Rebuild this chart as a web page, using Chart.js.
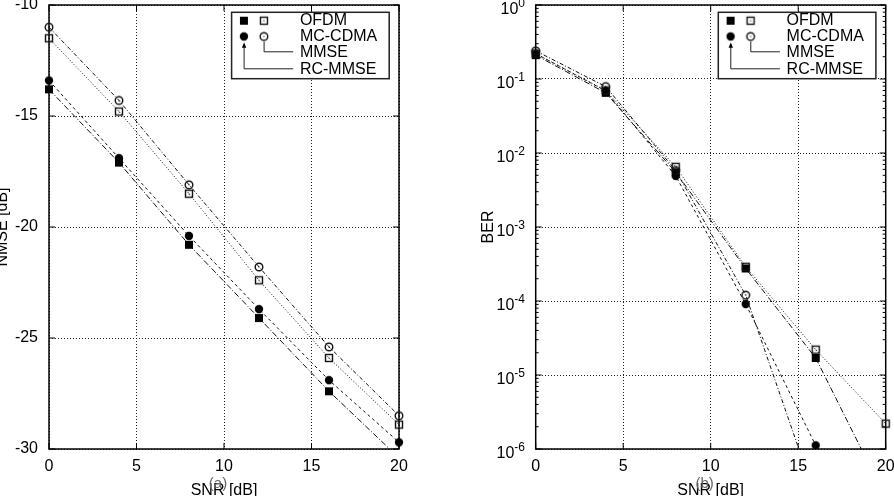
<!DOCTYPE html>
<html>
<head>
<meta charset="utf-8">
<title>NMSE and BER versus SNR</title>
<script src="https://cdn.jsdelivr.net/npm/chart.js@4.4.1/dist/chart.umd.min.js"></script>
<style>
  body { margin: 0; background: #fff; }
  #wrap { position: relative; width: 894px; height: 496px; overflow: hidden; }
  canvas { position: absolute; top: 0; }
  #nmseChart { left: 0; }
  #berChart { left: 447px; }
</style>
</head>
<body>
<div id="wrap">
  <canvas id="nmseChart" width="447" height="496"></canvas>
  <canvas id="berChart" width="447" height="496"></canvas>
</div>
<script>
// values
var snr = [0, 4, 8, 12, 16, 20];

// (a) NMSE [dB]
var nmseOfdmMmse = [-11.5, -14.8, -18.5, -22.4, -25.9, -28.9];
var nmseCdmaMmse = [-11.0, -14.3, -18.1, -21.8, -25.4, -28.5];
var nmseOfdmRc   = [-13.8, -17.1, -20.8, -24.1, -27.4, -30.4];
var nmseCdmaRc   = [-13.4, -16.9, -20.4, -23.7, -26.9, -29.7];

// (b) BER
var berOfdmMmse = [0.22, 0.070, 0.0065, 2.9e-4, 2.2e-5, 2.2e-6];
var berCdmaMmse = [0.24, 0.079, 0.0058, 1.2e-4, 2.2e-7, null];
var berOfdmRc   = [0.21, 0.065, 0.0055, 2.75e-4, 1.7e-5, 2.2e-7];
var berCdmaRc   = [0.22, 0.069, 0.0049, 9.1e-5, 1.12e-6, null];

var snrTicks = [0, 5, 10, 15, 20];
var nmseTicks = [-30, -25, -20, -15, -10];
var berExponents = [0, -1, -2, -3, -4, -5, -6];
var legendRows = ["OFDM", "MC-CDMA", "MMSE", "RC-MMSE"];
var xTitle = "SNR [dB]";
var nmseTitle = "NMSE [dB]";
var berTitle = "BER";

var FONT = '"Liberation Sans", Arial, sans-serif';
Chart.defaults.font.family = FONT;
Chart.defaults.font.size = 16;
Chart.defaults.color = '#000';

// gnuplot like markers
function marker(kind) {
  var c = document.createElement('canvas');
  c.width = 12; c.height = 12;
  var g = c.getContext('2d');
  g.fillStyle = '#000';
  g.strokeStyle = '#111';
  g.lineWidth = 1.4;
  if (kind == 'fsq') g.fillRect(2, 2, 8, 8);
  if (kind == 'osq') { g.strokeRect(2.5, 2.5, 7, 7); g.fillRect(5.5, 5.5, 1, 1); }
  if (kind == 'fci') { g.beginPath(); g.arc(6, 6, 4.2, 0, 2 * Math.PI); g.fill(); }
  if (kind == 'oci') { g.beginPath(); g.arc(6, 6, 3.8, 0, 2 * Math.PI); g.stroke(); g.fillRect(5.5, 5.5, 1, 1); }
  return c;
}
var markers = { fsq: marker('fsq'), osq: marker('osq'), fci: marker('fci'), oci: marker('oci') };

function series(ys, kind, dash) {
  return {
    data: snr.map(function (x, i) { return { x: x, y: ys[i] }; }),
    showLine: true,
    borderColor: '#111',
    borderWidth: 1,
    borderDash: dash,
    pointStyle: markers[kind],
    pointRadius: 4,
    clip: { left: 10, right: 10, top: 10, bottom: 0 }
  };
}

function datasets(ofdmMmse, cdmaMmse, ofdmRc, cdmaRc) {
  return [
    series(ofdmMmse, 'osq', [1, 2]),
    series(cdmaMmse, 'oci', [4, 2, 1, 2]),
    series(ofdmRc, 'fsq', [6, 2, 1, 2]),
    series(cdmaRc, 'fci', [3, 3])
  ];
}

function tickLine(ctx, x1, y1, x2, y2) {
  ctx.beginPath();
  ctx.moveTo(x1, y1);
  ctx.lineTo(x2, y2);
  ctx.stroke();
}

function drawLegend(ctx, a) {
  var L = a.right - 167.4, T = 12.3, W = 157.6, H = 66.4;
  var rows = [8.4, 24.2, 40, 57.7];
  ctx.save();
  ctx.fillStyle = '#fff';
  ctx.fillRect(L, T, W, H);
  ctx.strokeStyle = '#222';
  ctx.lineWidth = 1.5;
  ctx.strokeRect(L, T, W, H);

  ctx.drawImage(markers.fsq, L + 12.3 - 6, T + rows[0] - 6);
  ctx.drawImage(markers.osq, L + 32.3 - 6, T + rows[0] - 6);
  ctx.drawImage(markers.fci, L + 12.3 - 6, T + rows[1] - 6);
  ctx.drawImage(markers.oci, L + 32.3 - 6, T + rows[1] - 6);

  // pointers from the marker columns to MMSE / RC-MMSE
  ctx.lineWidth = 1;
  ctx.beginPath();
  ctx.moveTo(L + 32.5, T + rows[1] + 5);
  ctx.lineTo(L + 32.5, T + 39.5);
  ctx.lineTo(L + 61.6, T + 39.5);
  ctx.moveTo(L + 12.5, T + 32);
  ctx.lineTo(L + 12.5, T + 56.5);
  ctx.lineTo(L + 61.6, T + 56.5);
  ctx.stroke();
  ctx.fillStyle = '#000';
  ctx.beginPath();
  ctx.moveTo(L + 12.5, T + 30.2);
  ctx.lineTo(L + 10.3, T + 35.5);
  ctx.lineTo(L + 14.7, T + 35.5);
  ctx.closePath();
  ctx.fill();

  ctx.font = '16px ' + FONT;
  ctx.textBaseline = 'middle';
  ctx.textAlign = 'left';
  for (var i = 0; i < legendRows.length; i++) {
    ctx.fillText(legendRows[i], L + 68.3, T + rows[i]);
  }
  ctx.restore();
}

// frame, inner tic marks, legend and titles
var paper = {
  id: 'paper',
  beforeDatasetsDraw: function (chart, args, opts) {
    var ctx = chart.ctx, a = chart.chartArea;
    var xs = chart.scales.x, ys = chart.scales.y;
    ctx.save();
    ctx.strokeStyle = '#000';
    ctx.lineWidth = 1;
    snrTicks.forEach(function (v) {
      var px = xs.getPixelForValue(v);
      tickLine(ctx, px, a.bottom, px, a.bottom - 6);
      tickLine(ctx, px, a.top, px, a.top + 6);
    });
    opts.yMajor.forEach(function (v) {
      var py = ys.getPixelForValue(v);
      tickLine(ctx, a.left, py, a.left + 6, py);
      tickLine(ctx, a.right, py, a.right - 6, py);
    });
    (opts.yMinor || []).forEach(function (v) {
      var py = ys.getPixelForValue(v);
      tickLine(ctx, a.left, py, a.left + 3, py);
      tickLine(ctx, a.right, py, a.right - 3, py);
    });
    ctx.lineWidth = 1.5;
    ctx.strokeRect(a.left, a.top, a.right - a.left, a.bottom - a.top);
    ctx.restore();
  },
  afterDraw: function (chart, args, opts) {
    var ctx = chart.ctx, a = chart.chartArea;
    var mid = (a.left + a.right) / 2;
    drawLegend(ctx, a);
    ctx.save();
    ctx.fillStyle = '#000';
    ctx.font = '16px ' + FONT;
    ctx.textAlign = 'center';
    ctx.textBaseline = 'alphabetic';
    ctx.fillText(xTitle, mid, 495);
    ctx.save();
    ctx.translate(opts.yTitleX, 227);
    ctx.rotate(-Math.PI / 2);
    ctx.fillText(opts.yTitle, 0, 0);
    ctx.restore();

    // log axis labels with raised exponent
    if (opts.powers) {
      var ys = chart.scales.y;
      opts.powers.forEach(function (e) {
        var py = ys.getPixelForValue(Math.pow(10, e));
        var right = a.left - 10.7;
        ctx.textAlign = 'left';
        ctx.font = '12px ' + FONT;
        var ew = ctx.measureText(String(e)).width;
        ctx.font = '16px ' + FONT;
        var bw = ctx.measureText('10').width;
        ctx.fillText('10', right - ew - bw, py + 8.5);
        ctx.font = '12px ' + FONT;
        ctx.fillText(String(e), right - ew, py + 2);
      });
    }

    ctx.fillStyle = '#666';
    ctx.font = '15px ' + FONT;
    ctx.textAlign = 'center';
    ctx.textBaseline = 'middle';
    ctx.fillText(opts.panel, mid - 6, 484);
    ctx.restore();
  }
};

function xScale() {
  return {
    type: 'linear', min: 0, max: 20,
    ticks: { stepSize: 5, padding: 8 },
    grid: { color: '#222', drawTicks: false },
    border: { display: false, dash: [1, 2] },
    afterFit: function (s) { s.height = 47; s.paddingLeft = 0; s.paddingRight = 0; }
  };
}

var berMinor = [];
for (var e = -6; e < 0; e++) {
  for (var m = 2; m <= 9; m++) berMinor.push(m * Math.pow(10, e));
}

new Chart(document.getElementById('nmseChart'), {
  type: 'scatter',
  data: { datasets: datasets(nmseOfdmMmse, nmseCdmaMmse, nmseOfdmRc, nmseCdmaRc) },
  plugins: [paper],
  options: {
    responsive: false,
    animation: false,
    layout: { padding: { top: 5, right: 48, left: 0, bottom: 0 } },
    scales: {
      x: xScale(),
      y: {
        min: -30, max: -10,
        ticks: { stepSize: 5, padding: 11 },
        grid: { color: '#222', drawTicks: false },
        border: { display: false, dash: [1, 2] },
        afterFit: function (s) { s.width = 49; s.paddingTop = 0; s.paddingBottom = 0; }
      }
    },
    plugins: {
      legend: { display: false },
      tooltip: { enabled: false },
      paper: { yMajor: nmseTicks, yTitle: nmseTitle, yTitleX: 7, panel: '(a)' }
    }
  }
});

new Chart(document.getElementById('berChart'), {
  type: 'scatter',
  data: { datasets: datasets(berOfdmMmse, berCdmaMmse, berOfdmRc, berCdmaRc) },
  plugins: [paper],
  options: {
    responsive: false,
    animation: false,
    layout: { padding: { top: 5, right: 8.3, left: 0, bottom: 0 } },
    scales: {
      x: xScale(),
      y: {
        type: 'logarithmic', min: 1e-6, max: 1,
        ticks: { display: false },
        grid: { color: '#222', drawTicks: false },
        border: { display: false, dash: [1, 2] },
        afterBuildTicks: function (s) {
          s.ticks = berExponents.map(function (e) { return { value: Math.pow(10, e) }; });
        },
        afterFit: function (s) { s.width = 88.7; s.paddingTop = 0; s.paddingBottom = 0; }
      }
    },
    plugins: {
      legend: { display: false },
      tooltip: { enabled: false },
      paper: {
        yMajor: berExponents.map(function (e) { return Math.pow(10, e); }),
        yMinor: berMinor,
        yTitle: berTitle, yTitleX: 46.3, panel: '(b)', powers: berExponents
      }
    }
  }
});
</script>
</body>
</html>
